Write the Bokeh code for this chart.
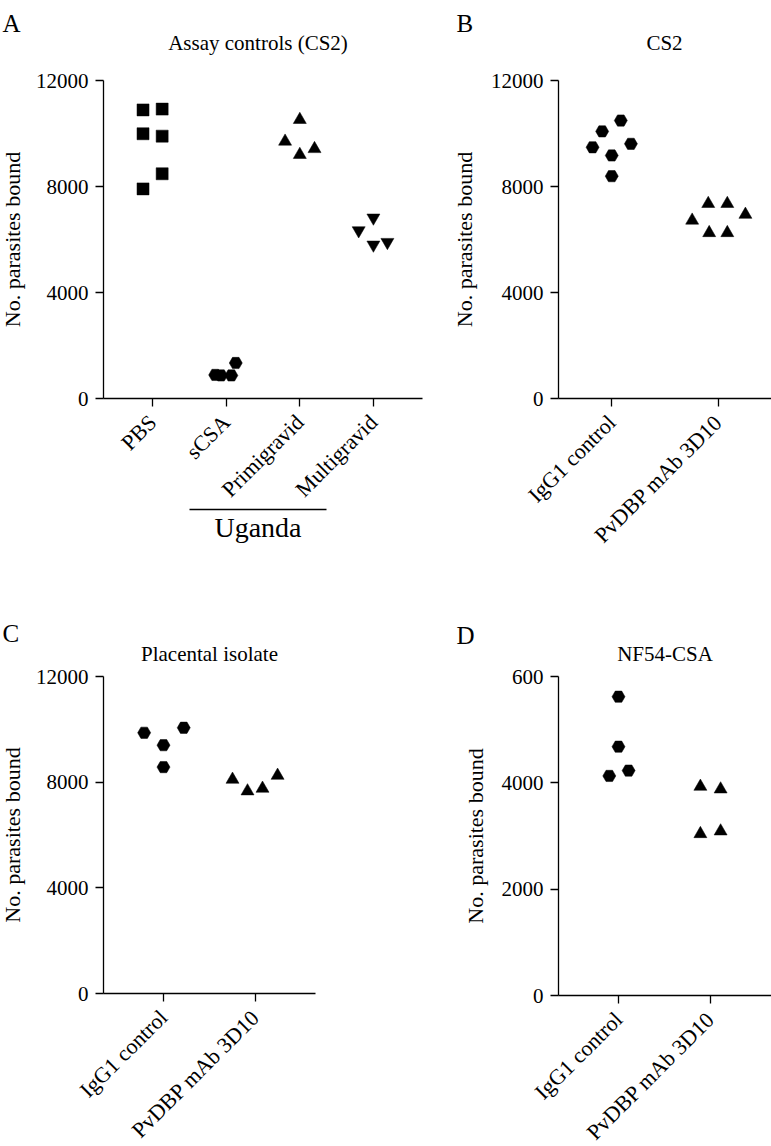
import math
import numpy as np
from bokeh.plotting import figure
from bokeh.models import Label, FixedTicker, Range1d, LinearAxis
from bokeh.layouts import column, row
from bokeh.embed import file_html
from bokeh.resources import INLINE

FONT = "Liberation Serif"

# ---------------- data ----------------
# Panel A: Assay controls (CS2)
a_categories = ["PBS", "sCSA", "Primigravid", "Multigravid"]
a_pbs = [10890, 10920, 9990, 9900, 8480, 7910]
a_pbs_jit = [-0.13, 0.13, -0.13, 0.13, 0.13, -0.13]
a_scsa = [890, 870, 870, 1340]
a_scsa_jit = [-0.15, -0.07, 0.07, 0.13]
a_primi = [9700, 10520, 9200, 9420]
a_primi_jit = [-0.2, 0.0, 0.0, 0.2]
a_multi = [6820, 6340, 5800, 5900]
a_multi_jit = [0.0, -0.2, 0.0, 0.19]

# Panels B-D: antibody treatment
bcd_categories = ["IgG1 control", "PvDBP mAb 3D10"]
b_igg = [9480, 10080, 10490, 9610, 9170, 8390]
b_igg_jit = [-0.18, -0.09, 0.085, 0.18, 0.0, 0.0]
b_pv = [6720, 7350, 7350, 6940, 6250, 6250]
b_pv_jit = [-0.245, -0.094, 0.085, 0.255, -0.085, 0.085]

c_igg = [9870, 9400, 10060, 8570]
c_igg_jit = [-0.21, 0.0, 0.22, 0.0]
c_pv = [8100, 7660, 7760, 8250]
c_pv_jit = [-0.25, -0.087, 0.076, 0.24]

d_igg = [5620, 4680, 4130, 4230]
d_igg_jit = [0.0, 0.0, -0.1, 0.11]
d_pv = [3930, 3880, 3040, 3090]
d_pv_jit = [-0.11, 0.11, -0.11, 0.11]

y_ticks_abc = [0, 4000, 8000, 12000]
y_ticks_d = [0, 2000, 4000, 6000]
y_tick_labels_d = ["0", "2000", "4000", "600"]

titles = ["Assay controls (CS2)", "CS2", "Placental isolate", "NF54-CSA"]
letters = ["A", "B", "C", "D"]
y_label = "No. parasites bound"
group_label = "Uganda"


class Panel:
    """A figure whose frame fills the canvas; the data box sits at a pixel rectangle."""

    def __init__(self, W, H, fx0, fy0, fw, fh, xr, yr, cats, yticks,
                 ylabels=None, ylabel_standoff=12):
        self.sx = fw / (xr[1] - xr[0])
        self.sy = fh / (yr[1] - yr[0])
        self.x_start = xr[0] - fx0 / self.sx
        self.y_top = yr[1] + fy0 / self.sy
        p = figure(width=W, height=H,
                   x_range=Range1d(self.x_start, self.x_start + W / self.sx),
                   y_range=Range1d(self.y_top - H / self.sy, self.y_top),
                   output_backend="svg", toolbar_location=None,
                   x_axis_type=None, y_axis_type=None,
                   min_border=0, min_border_left=0, min_border_right=0,
                   min_border_top=0, min_border_bottom=0)
        p.title.visible = False
        p.outline_line_color = None
        p.grid.visible = False
        p.background_fill_color = "white"
        p.border_fill_color = "white"

        xa = LinearAxis(fixed_location=yr[0], bounds=xr)
        ya = LinearAxis(fixed_location=xr[0], bounds=yr)
        for ax in (xa, ya):
            ax.axis_line_width = 1.3
            ax.axis_line_color = "black"
            ax.major_tick_line_width = 1.3
            ax.major_tick_line_color = "black"
            ax.major_tick_in = 0
            ax.major_tick_out = 8
            ax.minor_tick_line_color = None
            ax.major_label_text_font = FONT
            ax.major_label_text_color = "black"
        xa.ticker = FixedTicker(ticks=list(range(len(cats))), minor_ticks=[])
        xa.major_label_overrides = {i: c for i, c in enumerate(cats)}
        xa.major_label_orientation = math.pi / 4
        xa.major_label_text_font_size = "22px"
        xa.major_label_standoff = 12
        ya.ticker = FixedTicker(ticks=yticks, minor_ticks=[])
        if ylabels is not None:
            ya.major_label_overrides = {t: l for t, l in zip(yticks, ylabels)}
        ya.major_label_text_font_size = "21px"
        ya.major_label_standoff = 7
        ya.axis_label = y_label
        ya.axis_label_text_font = FONT
        ya.axis_label_text_font_size = "22px"
        ya.axis_label_text_font_style = "normal"
        ya.axis_label_text_color = "black"
        ya.axis_label_standoff = ylabel_standoff
        p.add_layout(xa, "below")
        p.add_layout(ya, "left")
        self.p = p

    def X(self, px):
        return self.x_start + px / self.sx

    def Y(self, py):
        return self.y_top - py / self.sy

    def points(self, idx, vals, jit, marker, size):
        xs = np.full(len(vals), idx, dtype=float) + np.array(jit)
        self.p.scatter(x=xs, y=vals, marker=marker, size=size,
                       fill_color="black", line_color="black", line_width=0.5)

    def text(self, px, py, text, size, align="center"):
        self.p.add_layout(Label(x=self.X(px), y=self.Y(py), text=text,
                                text_font=FONT, text_font_size=size,
                                text_color="black", text_align=align,
                                text_baseline="alphabetic"))


# ---------------- panel A ----------------
A = Panel(440, 600, 103, 80, 319, 318, (-0.667, 3.667), (0, 12000),
          a_categories, y_ticks_abc, ylabel_standoff=8)
A.points(0, a_pbs, a_pbs_jit, "square", 12)
A.points(1, a_scsa, a_scsa_jit, "hex", 13)
A.points(2, a_primi, a_primi_jit, "triangle", 13)
A.points(3, a_multi, a_multi_jit, "inverted_triangle", 13)
# group bracket "Uganda" (sCSA .. Multigravid)
ug = LinearAxis(fixed_location=A.Y(509), bounds=(A.X(189), A.X(326)),
                ticker=FixedTicker(ticks=[], minor_ticks=[]),
                axis_label=group_label)
ug.axis_line_width = 1.3
ug.axis_line_color = "black"
ug.major_tick_line_color = None
ug.minor_tick_line_color = None
ug.major_label_text_font_size = "0px"
ug.axis_label_text_font = FONT
ug.axis_label_text_font_size = "28px"
ug.axis_label_text_font_style = "normal"
ug.axis_label_text_color = "black"
ug.axis_label_standoff = 2
A.p.add_layout(ug, "below")

# ---------------- panel B ----------------
B = Panel(331, 600, 118, 80, 213, 318, (-0.5, 1.5), (0, 12000),
          bcd_categories, y_ticks_abc, ylabel_standoff=11)
B.points(0, b_igg, b_igg_jit, "hex", 13)
B.points(1, b_pv, b_pv_jit, "triangle", 13)

# ---------------- panel C ----------------
C = Panel(440, 546, 103, 76, 212, 317, (-0.652, 1.652), (0, 12000),
          bcd_categories, y_ticks_abc, ylabel_standoff=8)
C.points(0, c_igg, c_igg_jit, "hex", 13)
C.points(1, c_pv, c_pv_jit, "triangle", 13)

# ---------------- panel D ----------------
D = Panel(331, 546, 118, 76, 213, 319, (-0.652, 1.663), (0, 6000),
          bcd_categories, y_ticks_d, y_tick_labels_d, ylabel_standoff=11)
D.points(0, d_igg, d_igg_jit, "hex", 13)
D.points(1, d_pv, d_pv_jit, "triangle", 13)

# titles and panel letters
A.text(257.5, 42, titles[0], "21px")
B.text(224, 42, titles[1], "21px")
C.text(209, 53, titles[2], "21px")
D.text(224.5, 53, titles[3], "21px")

A.text(2, 23, letters[0], "25px", align="left")
B.text(16, 23, letters[1], "25px", align="left")
C.text(2, 33, letters[2], "25px", align="left")
D.text(16, 35, letters[3], "25px", align="left")

layout = column(row(A.p, B.p), row(C.p, D.p))
open("out.html", "w").write(file_html(layout, INLINE))
